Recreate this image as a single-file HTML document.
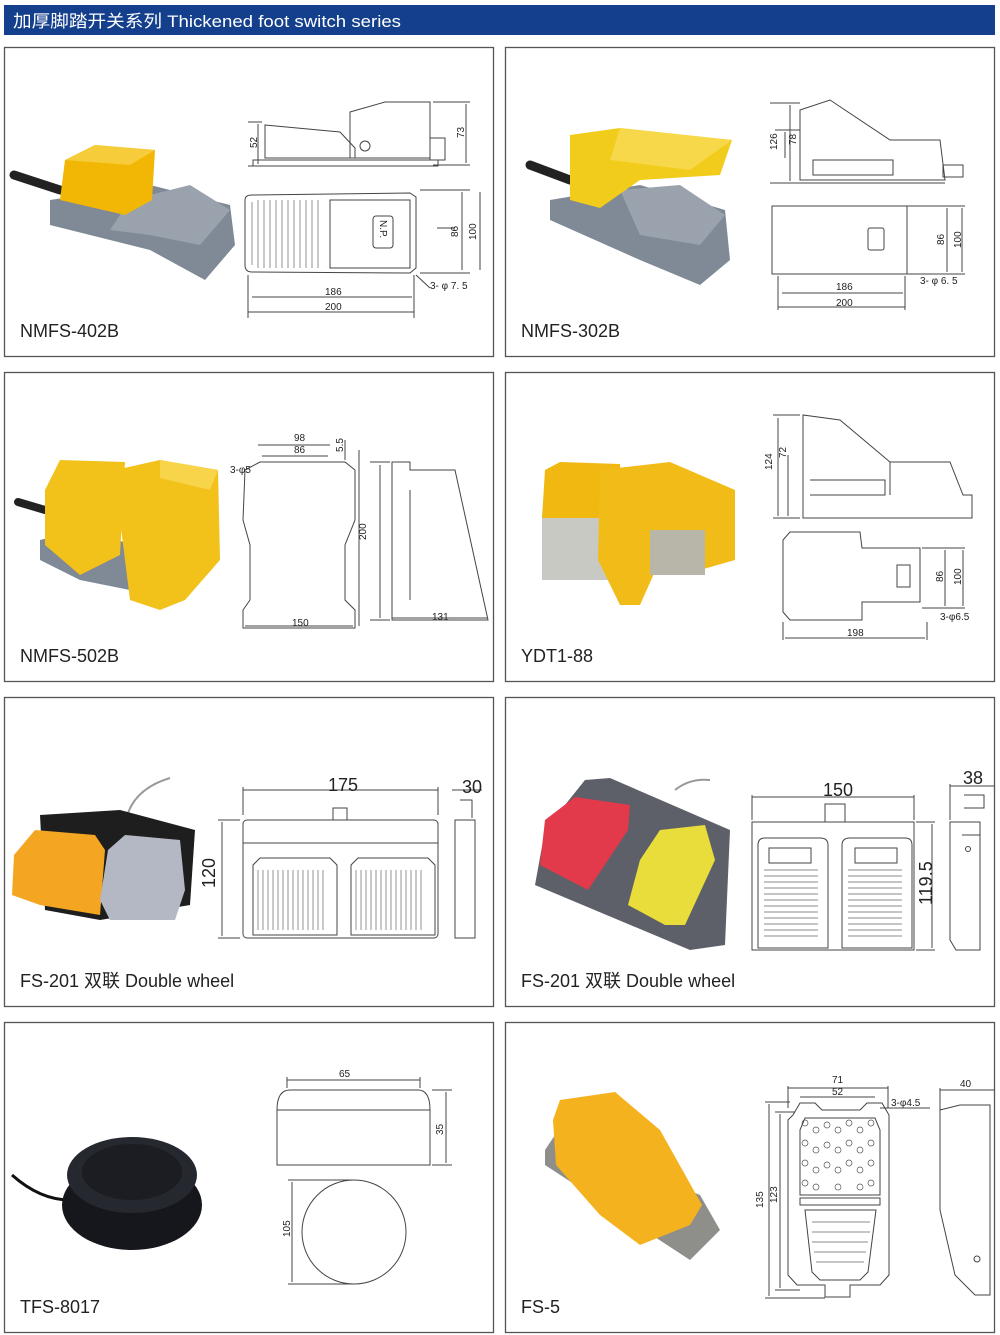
<!DOCTYPE html>
<html><head><meta charset="utf-8"><style>
html,body{margin:0;padding:0;background:#fff;}
svg{display:block;}
text{font-family:"Liberation Sans","Noto Sans CJK SC",sans-serif;}
.lbl{font-size:18px;fill:#222;}
.dim{font-size:10px;fill:#222;}
.ln{fill:none;stroke:#444;stroke-width:1;}
.th{fill:none;stroke:#666;stroke-width:0.7;}
</style></head><body>
<svg width="1000" height="1335" viewBox="0 0 1000 1335" xmlns="http://www.w3.org/2000/svg">
<rect x="4" y="5" width="991" height="30" fill="#133f8c"/>
<text x="13" y="27" fill="#fff" font-size="17" textLength="388" lengthAdjust="spacingAndGlyphs">加厚脚踏开关系列 Thickened foot switch series</text>

<g fill="none" stroke="#555" stroke-width="1.3">
<rect x="4.5" y="47.5" width="489" height="309"/>
<rect x="505.5" y="47.5" width="489" height="309"/>
<rect x="4.5" y="372.5" width="489" height="309"/>
<rect x="505.5" y="372.5" width="489" height="309"/>
<rect x="4.5" y="697.5" width="489" height="309"/>
<rect x="505.5" y="697.5" width="489" height="309"/>
<rect x="4.5" y="1022.5" width="489" height="310"/>
<rect x="505.5" y="1022.5" width="489" height="310"/>
</g>
<text class="lbl" x="20" y="337">NMFS-402B</text>
<text class="lbl" x="521" y="337">NMFS-302B</text>
<text class="lbl" x="20" y="662">NMFS-502B</text>
<text class="lbl" x="521" y="662">YDT1-88</text>
<text class="lbl" x="20" y="987">FS-201 双联 Double wheel</text>
<text class="lbl" x="521" y="987">FS-201 双联 Double wheel</text>
<text class="lbl" x="20" y="1313">TFS-8017</text>
<text class="lbl" x="521" y="1313">FS-5</text>

<path d="M14 175 L60 190" stroke="#222" stroke-width="9" stroke-linecap="round"/>
<polygon points="50,200 150,185 230,205 235,245 205,280 150,250 50,225" fill="#7f8a96"/>
<polygon points="130,200 190,185 230,210 200,245 150,235 110,230" fill="#9aa3ad"/>
<polygon points="65,160 95,145 155,150 152,200 125,215 60,200" fill="#f2b705"/>
<polygon points="65,160 95,145 155,150 130,165" fill="#f7cc3a"/>
<g class="ln">
<polygon points="265,125 340,132 355,148 355,158 265,158"/>
<polygon points="350,112 385,102 430,102 430,158 350,158"/>
<rect x="253" y="160" width="185" height="6"/>
<rect x="430" y="138" width="15" height="22"/>
<circle cx="365" cy="146" r="5"/>
<path d="M248 122 H262 M248 166 H262 M258 124 V164 M433 102 H470 M433 165 H470 M466 104 V163"/>
<path d="M245 200 Q245 195 252 195 L410 193 L416 197 V268 L410 273 L252 272 Q245 272 245 265 Z"/>
<rect x="330" y="200" width="80" height="68"/>
<rect x="373" y="216" width="20" height="32" rx="3"/>
<path d="M420 190 H470 M420 273 H470 M462 192 V270 M480 192 V270 M437 228 H455 M248 275 V318 M414 275 V318 M252 297 H412 M248 312 H414 M416 275 L430 288"/>
</g>
<g class="th"><path d="M252 202 V265 M258 200 V268 M264 200 V268 M270 200 V268 M276 200 V268 M282 200 V268 M288 200 V268 M294 200 V268 M300 200 V268 M306 200 V268 M312 200 V268 M318 200 V268"/></g>
<text class="dim" x="325" y="295">186</text><text class="dim" x="325" y="310">200</text>
<text class="dim" x="430" y="289">3- φ 7. 5</text>
<text class="dim" transform="translate(257,148) rotate(-90)">52</text>
<text class="dim" transform="translate(464,138) rotate(-90)">73</text>
<text class="dim" transform="translate(458,237) rotate(-90)">86</text>
<text class="dim" transform="translate(476,240) rotate(-90)">100</text>
<text class="dim" transform="translate(380,220) rotate(90)" font-size="12">N.P.</text>

<path d="M530 165 L570 180" stroke="#222" stroke-width="9" stroke-linecap="round"/>
<polygon points="550,200 640,185 725,210 730,260 700,285 640,260 550,220" fill="#7f8a96"/>
<polygon points="620,190 680,185 725,215 700,245 640,235" fill="#9aa3ad"/>
<polygon points="570,135 620,128 732,140 720,175 640,180 600,208 570,200" fill="#f2cc1a"/>
<polygon points="620,128 732,140 690,170 610,160" fill="#f7d84a"/>
<g class="ln">
<polygon points="800,110 830,100 890,140 940,140 945,180 800,180"/>
<rect x="813" y="160" width="80" height="15"/>
<rect x="943" y="165" width="20" height="12"/>
<path d="M770 103 H800 M770 183 H945 M790 105 V181 M775 130 H800 M785 132 V158"/>
<rect x="772" y="206" width="135" height="68"/>
<path d="M905 206 H965 M905 274 H965 M947 208 V272 M962 208 V272 M778 276 V310 M905 276 V310 M782 293 H903 M778 307 H905"/>
<rect x="868" y="228" width="16" height="22" rx="2"/>
</g>
<text class="dim" x="836" y="290">186</text><text class="dim" x="836" y="306">200</text>
<text class="dim" x="920" y="284">3- φ 6. 5</text>
<text class="dim" transform="translate(777,150) rotate(-90)">126</text>
<text class="dim" transform="translate(796,145) rotate(-90)">78</text>
<text class="dim" transform="translate(944,245) rotate(-90)">86</text>
<text class="dim" transform="translate(961,248) rotate(-90)">100</text>

<path d="M18 502 L45 510" stroke="#222" stroke-width="8" stroke-linecap="round"/>
<polygon points="40,540 80,530 190,560 180,600 80,580 40,560" fill="#7f8a96"/>
<polygon points="45,490 60,460 125,462 120,555 80,575 45,545" fill="#f2c11a"/>
<polygon points="115,470 160,460 218,470 220,560 185,600 160,610 130,600 120,520" fill="#f2c11a"/>
<polygon points="160,460 218,470 210,490 160,478" fill="#f7d44a"/>
<g class="ln">
<path d="M245 470 L260 462 H345 L355 470 V520 L345 545 V600 L355 610 V628 H243 V610 L250 600 V545 L243 520 Z"/>
<path d="M258 445 H330 M262 456 H328 M345 440 V460 M359 450 V626 M245 626 H353"/>
<path d="M370 462 H390 M370 620 H390 M380 465 V618"/>
<path d="M392 462 H410 V470 H455 L488 620 H392 Z M410 490 V600 M392 618 H488"/>
</g>
<text class="dim" x="294" y="441">98</text><text class="dim" x="294" y="453">86</text>
<text class="dim" x="230" y="473">3-φ5</text>
<text class="dim" x="292" y="626">150</text><text class="dim" x="432" y="620">131</text>
<text class="dim" transform="translate(366,540) rotate(-90)">200</text>
<text class="dim" transform="translate(343,452) rotate(-90)">5.5</text>

<rect x="542" y="515" width="80" height="65" fill="#c9c9c4"/>
<polygon points="545,470 560,462 620,464 622,518 542,518" fill="#f0b810"/>
<polygon points="600,470 670,462 735,490 735,560 700,570 660,560 640,605 620,605 598,560" fill="#f2bc18"/>
<rect x="650" y="530" width="55" height="45" fill="#b8b6a8"/>
<g class="ln">
<path d="M803 415 V518 H972 V495 H963 L950 462 H890 L840 420 Z M810 480 H885 V495 H810 M890 462 V495"/>
<path d="M773 415 H800 M773 518 H800 M778 418 V516 M788 455 V516"/>
<path d="M783 540 L790 532 H860 L862 548 H920 V602 H862 V620 H790 L783 612 Z"/>
<rect x="897" y="565" width="13" height="22"/>
<path d="M922 548 H965 M922 608 H965 M945 550 V606 M963 550 V606 M783 622 V640 M927 622 V640 M785 638 H925"/>
</g>
<text class="dim" x="847" y="636" font-size="8">198</text>
<text class="dim" x="940" y="620" font-size="8">3-φ6.5</text>
<text class="dim" transform="translate(772,470) rotate(-90)" font-size="8">124</text>
<text class="dim" transform="translate(786,458) rotate(-90)" font-size="8">72</text>
<text class="dim" transform="translate(943,582) rotate(-90)" font-size="8">86</text>
<text class="dim" transform="translate(961,585) rotate(-90)" font-size="8">100</text>

<path d="M125 825 Q130 790 170 778" stroke="#999" stroke-width="2" fill="none"/>
<polygon points="40,815 120,810 195,830 190,905 100,920 45,910" fill="#1e1e1e"/>
<polygon points="14,855 35,830 95,835 105,850 100,915 40,905 12,895" fill="#f4a623"/>
<polygon points="108,850 125,835 180,840 185,890 175,920 110,920 100,900" fill="#b4b8c4"/>
<g class="ln">
<rect x="243" y="820" width="195" height="118" rx="4"/>
<path d="M243 843 H438"/>
<rect x="333" y="808" width="14" height="12"/>
<path d="M253 865 L260 858 H330 L337 865 V935 H253 Z M351 865 L358 858 H428 L435 865 V935 H351 Z"/>
<path d="M243 790 H438 M243 787 V815 M438 787 V815 M218 820 H240 M218 938 H240 M222 822 V936"/>
<path d="M455 820 H475 V938 H455 Z M460 800 H472 V818 M452 790 H482"/>
</g>
<g class="th"><path d="M258 870 V930 M263 870 V930 M268 870 V930 M273 870 V930 M278 870 V930 M283 870 V930 M288 870 V930 M293 870 V930 M298 870 V930 M303 870 V930 M308 870 V930 M313 870 V930 M318 870 V930 M323 870 V930 M356 870 V930 M361 870 V930 M366 870 V930 M371 870 V930 M376 870 V930 M381 870 V930 M386 870 V930 M391 870 V930 M396 870 V930 M401 870 V930 M406 870 V930 M411 870 V930 M416 870 V930 M421 870 V930"/></g>
<text class="lbl" x="328" y="791" font-size="13">175</text>
<text class="lbl" x="462" y="793" font-size="13">30</text>
<text class="lbl" transform="translate(215,888) rotate(-90)" font-size="13">120</text>

<path d="M675 790 Q690 778 710 780" stroke="#999" stroke-width="2" fill="none"/>
<polygon points="585,780 610,778 730,830 725,945 690,950 535,885 545,830" fill="#5d6068"/>
<polygon points="545,820 575,797 630,805 628,830 588,890 540,865" fill="#e23a4a"/>
<polygon points="660,830 705,825 715,860 685,925 665,925 628,905 640,860" fill="#e8dd3a"/>
<g class="ln">
<rect x="752" y="822" width="162" height="128"/>
<rect x="825" y="804" width="20" height="18"/>
<path d="M758 845 Q758 838 765 838 H820 Q828 838 828 845 V948 H758 Z M842 845 Q842 838 850 838 H905 Q912 838 912 845 V948 H842 Z"/>
<rect x="769" y="848" width="42" height="15"/><rect x="855" y="848" width="42" height="15"/>
<path d="M752 797 H914 M752 795 V820 M914 795 V820 M916 822 H935 M916 950 H935 M932 824 V948"/>
<path d="M950 822 H980 V950 H956 L950 940 Z M962 835 H980 M964 795 H984 V808 H964 M950 786 H995 M950 784 V820"/>
<circle cx="968" cy="849" r="2.5"/>
</g>
<g class="th"><path d="M764 870 H818 M764 876 H818 M764 882 H818 M764 888 H818 M764 894 H818 M764 900 H818 M764 906 H818 M764 912 H818 M764 918 H818 M764 924 H818 M764 930 H818 M764 936 H818 M848 870 H902 M848 876 H902 M848 882 H902 M848 888 H902 M848 894 H902 M848 900 H902 M848 906 H902 M848 912 H902 M848 918 H902 M848 924 H902 M848 930 H902 M848 936 H902"/></g>
<text class="lbl" x="823" y="796" font-size="13">150</text>
<text class="lbl" x="963" y="784" font-size="13">38</text>
<text class="lbl" transform="translate(932,905) rotate(-90)" font-size="13">119.5</text>

<path d="M12 1175 Q40 1200 70 1200" stroke="#111" stroke-width="3" fill="none"/>
<ellipse cx="132" cy="1205" rx="70" ry="45" fill="#15171c"/>
<ellipse cx="132" cy="1175" rx="65" ry="38" fill="#25282f"/>
<ellipse cx="132" cy="1172" rx="50" ry="28" fill="#1b1d22"/>
<g class="ln">
<path d="M277 1110 Q277 1090 290 1090 H418 Q430 1090 430 1110 V1165 H277 Z M277 1110 H430"/>
<path d="M287 1080 H420 M287 1077 V1088 M420 1077 V1088 M432 1090 H452 M432 1165 H452 M446 1092 V1163"/>
<circle cx="354" cy="1232" r="52"/>
<path d="M288 1180 H354 M288 1284 H354 M292 1182 V1282"/>
</g>
<text class="dim" x="339" y="1077">65</text>
<text class="dim" transform="translate(443,1135) rotate(-90)">35</text>
<text class="dim" transform="translate(290,1237) rotate(-90)">105</text>

<polygon points="545,1150 555,1135 700,1195 720,1230 690,1260 545,1165" fill="#8e8e8a"/>
<polygon points="553,1120 560,1100 615,1092 660,1130 702,1205 690,1225 640,1245 600,1215 556,1165" fill="#f4b21e"/>
<g class="ln">
<path d="M793 1115 L800 1103 H815 L822 1110 H860 L867 1103 H882 L889 1115 V1275 L880 1285 H850 V1297 H825 V1285 H797 L788 1275 V1120 Z"/>
<path d="M800 1130 L805 1118 H875 L880 1130 V1195 H800 Z M800 1198 H880 V1205 H800 Z M805 1210 H876 L868 1272 L860 1280 H820 L812 1272 Z"/>
<path d="M788 1088 H888 M788 1086 V1108 M888 1086 V1108 M800 1097 H875 M765 1102 H790 M765 1298 H825 M769 1104 V1296 M775 1112 H795 M775 1290 H800 M780 1114 V1288 M880 1108 H930"/>
<path d="M940 1110 L960 1105 H990 V1295 H975 L955 1275 L940 1210 Z M940 1090 H995 M940 1088 V1110"/>
<circle cx="977" cy="1259" r="3"/>
</g>
<g class="th" stroke-width="0.8">
<path d="M812 1232 H870 M812 1242 H868 M814 1252 H866 M816 1262 H864 M812 1222 H870"/>
</g>
<g fill="none" stroke="#555" stroke-width="0.7">
<circle cx="805" cy="1123" r="3"/><circle cx="816" cy="1130" r="3"/><circle cx="827" cy="1125" r="3"/><circle cx="838" cy="1130" r="3"/><circle cx="849" cy="1123" r="3"/><circle cx="860" cy="1130" r="3"/><circle cx="871" cy="1123" r="3"/>
<circle cx="805" cy="1143" r="3"/><circle cx="816" cy="1150" r="3"/><circle cx="827" cy="1145" r="3"/><circle cx="838" cy="1150" r="3"/><circle cx="849" cy="1143" r="3"/><circle cx="860" cy="1150" r="3"/><circle cx="871" cy="1143" r="3"/>
<circle cx="805" cy="1163" r="3"/><circle cx="816" cy="1170" r="3"/><circle cx="827" cy="1165" r="3"/><circle cx="838" cy="1170" r="3"/><circle cx="849" cy="1163" r="3"/><circle cx="860" cy="1170" r="3"/><circle cx="871" cy="1163" r="3"/>
<circle cx="805" cy="1183" r="3"/><circle cx="816" cy="1187" r="3"/><circle cx="838" cy="1187" r="3"/><circle cx="860" cy="1187" r="3"/><circle cx="871" cy="1183" r="3"/>
</g>
<text class="dim" x="832" y="1083">71</text><text class="dim" x="832" y="1095">52</text>
<text class="dim" x="891" y="1106">3-φ4.5</text>
<text class="dim" x="960" y="1087">40</text>
<text class="dim" transform="translate(763,1208) rotate(-90)">135</text>
<text class="dim" transform="translate(777,1203) rotate(-90)">123</text>
</svg>
</body></html>
